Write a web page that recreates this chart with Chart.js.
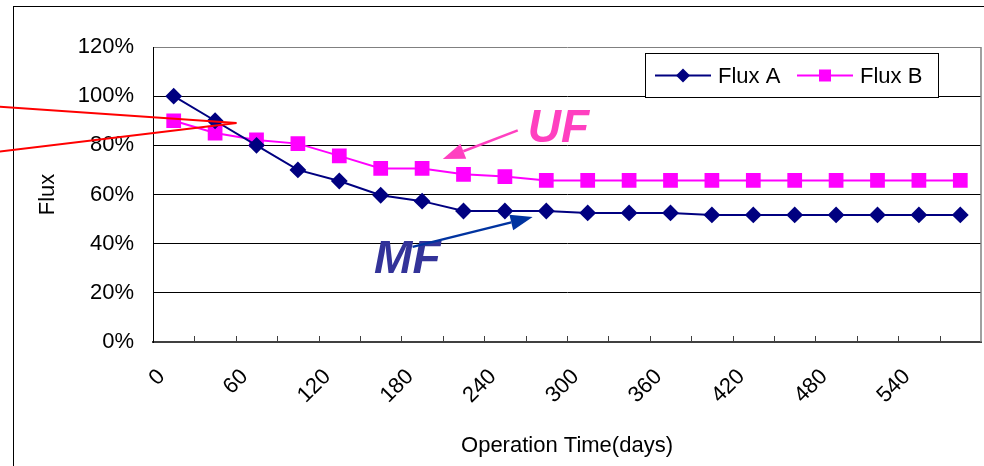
<!DOCTYPE html>
<html>
<head>
<meta charset="utf-8">
<script src="https://cdn.jsdelivr.net/npm/chart.js@4.4.1/dist/chart.umd.min.js"></script>
<style>
  html, body { margin: 0; padding: 0; background: #fff; }
  #wrap { position: relative; width: 984px; height: 466px; }
</style>
</head>
<body>
<div id="wrap"><canvas id="c" width="984" height="466"></canvas></div>
<script>
// ---- data ----
const days = ['0','30','60','90','120','150','180','210','240','270','300','330','360','390','420','450','480','510','540','570'];
const fluxA = [100, 90, 80, 70, 65.5, 59.7, 57.3, 53.3, 53.3, 53.3, 52.5, 52.5, 52.5, 51.7, 51.7, 51.7, 51.7, 51.7, 51.7, 51.7];
const fluxB = [90, 85, 82.2, 80.7, 75.7, 70.6, 70.6, 68.2, 67.3, 65.7, 65.7, 65.7, 65.7, 65.7, 65.7, 65.7, 65.7, 65.7, 65.7, 65.7];
const seriesNames = ['Flux A', 'Flux B'];
const yTicks = [0, 20, 40, 60, 80, 100, 120];

const FONT = "'Liberation Sans', Arial, sans-serif";

// decorative frame, inner tick marks, legend and annotations
const decor = {
  id: 'decor',
  beforeDraw(chart) {
    const ctx = chart.ctx;
    ctx.save();
    ctx.strokeStyle = '#000';
    ctx.lineWidth = 1;
    ctx.strokeRect(13.5, 6.5, 1000, 500);
    ctx.restore();
  },
  afterDatasetsDraw(chart) {
    const ctx = chart.ctx;
    const xs = chart.scales.x, ys = chart.scales.y;
    const ca = chart.chartArea;
    const P = (i, v) => [xs.getPixelForValue(i), ys.getPixelForValue(v)];
    ctx.save();
    // plot frame right (grey)
    ctx.strokeStyle = '#808080';
    ctx.lineWidth = 1.5;
    ctx.beginPath();
    ctx.moveTo(ca.right, ca.top);
    ctx.lineTo(ca.right, ca.bottom);
    ctx.stroke();
    // inner tick marks on x axis
    ctx.strokeStyle = '#404040';
    ctx.lineWidth = 1;
    ctx.beginPath();
    for (let i = 1; i < days.length; i++) {
      const x = Math.round(xs.getPixelForValue(i - 0.5)) + 0.5;
      ctx.moveTo(x, ca.bottom);
      ctx.lineTo(x, ca.bottom - 6);
    }
    ctx.stroke();

    // arrows helper
    function arrow(from, to, color, w, headLen, headW) {
      const [x1, y1] = P(from[0], from[1]);
      const [x2, y2] = P(to[0], to[1]);
      const a = Math.atan2(y2 - y1, x2 - x1);
      const bx = x2 - Math.cos(a) * headLen, by = y2 - Math.sin(a) * headLen;
      ctx.strokeStyle = color; ctx.fillStyle = color; ctx.lineWidth = w;
      ctx.beginPath(); ctx.moveTo(x1, y1); ctx.lineTo(bx, by); ctx.stroke();
      ctx.beginPath();
      ctx.moveTo(x2, y2);
      ctx.lineTo(bx + Math.sin(a) * headW / 2, by - Math.cos(a) * headW / 2);
      ctx.lineTo(bx - Math.sin(a) * headW / 2, by + Math.cos(a) * headW / 2);
      ctx.closePath(); ctx.fill();
    }
    // UF annotation
    arrow([8.31, 86.1], [6.5, 74.4], '#FF40C0', 2.5, 22, 16);
    ctx.font = "italic bold 46px " + FONT;
    ctx.fillStyle = '#FF40C0';
    ctx.textBaseline = 'alphabetic';
    ctx.textAlign = 'left';
    let [tx, ty] = P(8.55, 81.5);
    ctx.fillText('UF', tx, ty);
    // MF annotation
    ctx.fillStyle = '#333399';
    [tx, ty] = P(4.84, 28.1);
    ctx.fillText('MF', tx, ty);
    arrow([5.77, 38.7], [8.67, 50.8], '#0033A0', 2.5, 22, 16);

    // red lines
    ctx.strokeStyle = '#FF0000';
    ctx.lineWidth = 2;
    ctx.beginPath();
    let a1 = P(-4.2, 95.7), a2 = P(1.52, 89.1), b1 = P(-4.2, 77.5);
    ctx.moveTo(a1[0], a1[1]); ctx.lineTo(a2[0], a2[1]);
    ctx.moveTo(b1[0], b1[1]); ctx.lineTo(a2[0], a2[1]);
    ctx.stroke();

    // legend
    const lx = 645.5, ly = 53.5, lw = 293, lh = 44;
    ctx.fillStyle = '#fff';
    ctx.fillRect(lx, ly, lw, lh);
    ctx.strokeStyle = '#000';
    ctx.lineWidth = 1;
    ctx.strokeRect(lx, ly, lw, lh);
    const cy = ly + lh / 2;
    const items = [[655, 718], [797, 860]];
    chart.data.datasets.forEach((ds, k) => {
      const [sx, textX] = items[k];
      ctx.strokeStyle = ds.borderColor; ctx.lineWidth = 2;
      ctx.beginPath(); ctx.moveTo(sx, cy); ctx.lineTo(sx + 56, cy); ctx.stroke();
      ctx.fillStyle = ds.backgroundColor;
      const mx = sx + 28;
      if (ds.pointStyle === 'rectRot') {
        const r = 7;
        ctx.beginPath(); ctx.moveTo(mx, cy - r); ctx.lineTo(mx + r, cy); ctx.lineTo(mx, cy + r); ctx.lineTo(mx - r, cy); ctx.closePath(); ctx.fill();
      } else {
        ctx.fillRect(mx - 6, cy - 6, 12, 12);
      }
      ctx.fillStyle = '#000';
      ctx.font = "22px " + FONT;
      ctx.textBaseline = 'middle';
      ctx.fillText(ds.label, textX, cy + 1);
    });
    ctx.restore();
  }
};

new Chart(document.getElementById('c'), {
  type: 'line',
  data: {
    labels: days,
    datasets: [
      { label: seriesNames[0], data: fluxA, borderColor: '#000080', backgroundColor: '#000080',
        borderWidth: 2, pointStyle: 'rectRot', pointRadius: 7, pointHoverRadius: 7, tension: 0 },
      { label: seriesNames[1], data: fluxB, borderColor: '#FF00FF', backgroundColor: '#FF00FF',
        borderWidth: 2, pointStyle: 'rect', pointRadius: 9, pointHoverRadius: 9, tension: 0 }
    ]
  },
  options: {
    responsive: false,
    animation: false,
    devicePixelRatio: 1,
    layout: { autoPadding: false, padding: { left: 30, top: 47, right: 3, bottom: 0 } },
    plugins: { legend: { display: false }, tooltip: { enabled: false } },
    scales: {
      x: {
        type: 'category',
        offset: true,
        grid: { display: true, drawOnChartArea: false, drawTicks: false, offset: true },
        border: { display: true, color: '#404040', width: 2 },
        ticks: {
          autoSkip: false, minRotation: 45, maxRotation: 45, padding: 22, labelOffset: -12,
          color: '#000', font: { family: FONT, size: 22 },
          callback: function (v, i) { return i % 2 === 0 ? days[i] : ''; }
        },
        title: { display: true, text: 'Operation Time(days)', color: '#000',
          font: { family: FONT, size: 22 }, padding: { top: 4, bottom: 7 } },
        afterFit: s => { s.height = 124; s.paddingLeft = 0; s.paddingRight = 0; }
      },
      y: {
        min: 0, max: 120,
        afterBuildTicks: s => { s.ticks = yTicks.map(v => ({ value: v })); },
        grid: { color: c => (c.tick && c.tick.value === 120 ? '#808080' : '#000'), lineWidth: 1, drawTicks: false },
        border: { display: true, color: '#000', width: 1 },
        ticks: { padding: 19, color: '#000', font: { family: FONT, size: 22 },
          callback: v => v + '%' },
        title: { display: true, text: 'Flux', color: '#000',
          font: { family: FONT, size: 22 }, padding: { top: 5, bottom: 4 } },
        afterFit: s => { s.width = 123; s.paddingTop = 0; s.paddingBottom = 0; }
      }
    }
  },
  plugins: [decor]
});
</script>
</body>
</html>
